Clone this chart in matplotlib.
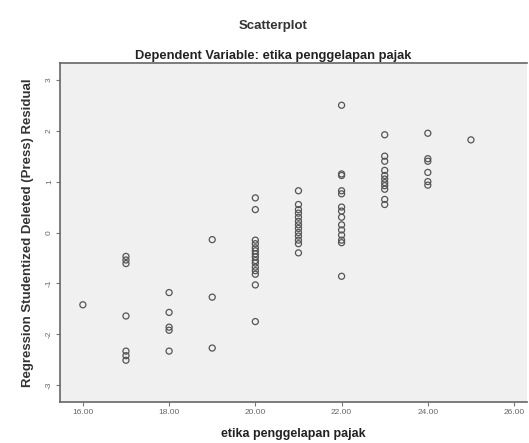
import numpy as np
import matplotlib
matplotlib.use('Agg')
import matplotlib.pyplot as plt

# etika penggelapan pajak (x) -> studentized deleted residuals (y)
x16 = [-1.42]
x17 = [-0.47, -0.54, -0.61, -1.64, -2.33, -2.42, -2.51]
x18 = [-1.18, -1.57, -1.86, -1.92, -2.33]
x19 = [-0.14, -1.27, -2.27]
x20 = [0.68, 0.45, -0.15, -0.22, -0.3, -0.36, -0.42, -0.48, -0.55, -0.6,
       -0.68, -0.75, -0.82, -1.03, -1.75]
x21 = [0.82, 0.55, 0.45, 0.38, 0.3, 0.22, 0.15, 0.08, 0.0, -0.07, -0.15,
       -0.22, -0.4]
x22 = [2.5, 1.15, 1.12, 0.82, 0.76, 0.5, 0.42, 0.3, 0.15, 0.05, -0.05,
       -0.15, -0.2, -0.86]
x23 = [1.92, 1.5, 1.4, 1.22, 1.12, 1.05, 0.98, 0.92, 0.85, 0.65, 0.55]
x24 = [1.95, 1.45, 1.4, 1.18, 1.0, 0.93]
x25 = [1.82]

groups = {16: x16, 17: x17, 18: x18, 19: x19, 20: x20, 21: x21,
          22: x22, 23: x23, 24: x24, 25: x25}
xs = np.concatenate([[k] * len(v) for k, v in groups.items()])
ys = np.concatenate([v for v in groups.values()])

xticks = [16, 18, 20, 22, 24, 26]
xticklabels = ['16.00', '18.00', '20.00', '22.00', '24.00', '26.00']
yticks = [-3, -2, -1, 0, 1, 2, 3]

plt.rcParams['font.family'] = ['Liberation Sans', 'DejaVu Sans']

fig = plt.figure(figsize=(5.29, 4.43), dpi=100)
fig.patch.set_facecolor('white')
ax = fig.add_axes([60 / 529, 1 - 402 / 443, 467 / 529, 339 / 443])
ax.set_facecolor('#f0f0f0')

ax.scatter(xs, ys, s=19, facecolors='none', edgecolors='#555555',
           linewidths=0.9, zorder=3)

ax.set_xlim(15.47, 26.3)
ax.set_ylim(-3.33, 3.33)
ax.set_xticks(xticks)
ax.set_xticklabels(xticklabels)
ax.set_yticks(yticks)
ax.set_yticklabels([str(t) for t in yticks], rotation=90, va='center')
ax.tick_params(axis='both', direction='out', length=3, width=0.8,
               colors='#777777', labelsize=6, labelcolor='#666666', pad=2)

for side in ['top', 'left', 'bottom']:
    ax.spines[side].set_color('#666666')
    ax.spines[side].set_linewidth(1.2)
ax.spines['right'].set_visible(False)

ax.set_xlabel('etika penggelapan pajak', fontsize=9, fontweight='bold',
              color='#222222', labelpad=9)
ax.set_ylabel('Regression Studentized Deleted (Press) Residual', fontsize=9.5,
              fontweight='bold', color='#333333', labelpad=9)

fig.text(273 / 529, 1 - 29 / 443, 'Scatterplot', ha='center', va='baseline',
         fontsize=9.5, fontweight='bold', color='#333333')
fig.text(273 / 529, 1 - 59 / 443, 'Dependent Variable: etika penggelapan pajak',
         ha='center', va='baseline', fontsize=9.3, fontweight='bold',
         color='#222222')

plt.savefig('out.png', dpi=100, facecolor='white')
